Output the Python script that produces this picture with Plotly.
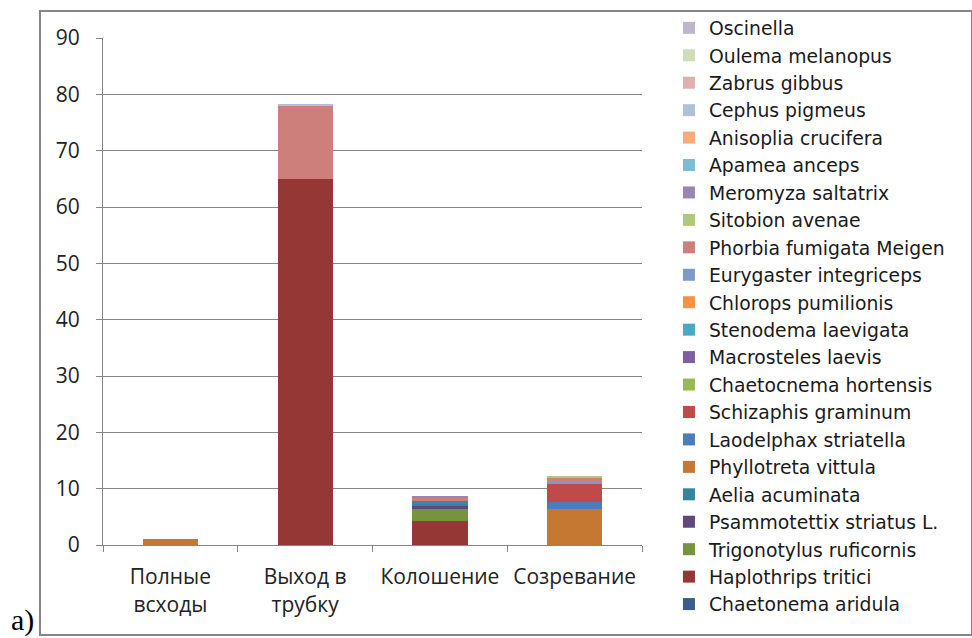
import plotly.graph_objects as go

stages = ["Полные<br>всходы", "Выход в<br>трубку", "Колошение", "Созревание"]

species = [
    "Chaetonema aridula", "Haplothrips tritici", "Trigonotylus ruficornis",
    "Psammotettix striatus L.", "Aelia acuminata", "Phyllotreta vittula",
    "Laodelphax striatella", "Schizaphis graminum", "Chaetocnema hortensis",
    "Macrosteles laevis", "Stenodema laevigata", "Chlorops pumilionis",
    "Eurygaster integriceps", "Phorbia fumigata Meigen", "Sitobion avenae",
    "Meromyza saltatrix", "Apamea anceps", "Anisoplia crucifera",
    "Cephus pigmeus", "Zabrus gibbus", "Oulema melanopus", "Oscinella",
]

chaetonema_aridula = [0, 0, 0, 0]
haplothrips_tritici = [0, 65, 4.3, 0]
trigonotylus_ruficornis = [0, 0, 2.1, 0]
psammotettix_striatus = [0, 0, 0.6, 0]
aelia_acuminata = [0, 0, 0.3, 0]
phyllotreta_vittula = [1.0, 0, 0, 6.4]
laodelphax_striatella = [0, 0, 0.5, 1.3]
schizaphis_graminum = [0, 0, 0, 3.3]
chaetocnema_hortensis = [0, 0, 0, 0]
macrosteles_laevis = [0, 0, 0, 0]
stenodema_laevigata = [0, 0, 0, 0]
chlorops_pumilionis = [0, 0, 0, 0]
eurygaster_integriceps = [0, 0, 0, 0.2]
phorbia_fumigata = [0, 13, 0.5, 0.7]
sitobion_avenae = [0, 0, 0, 0.2]
meromyza_saltatrix = [0, 0, 0.4, 0]
apamea_anceps = [0, 0, 0, 0]
anisoplia_crucifera = [0, 0, 0, 0]
cephus_pigmeus = [0, 0.2, 0, 0]
zabrus_gibbus = [0, 0, 0, 0]
oulema_melanopus = [0, 0, 0, 0]
oscinella = [0, 0, 0, 0]

values = [
    chaetonema_aridula, haplothrips_tritici, trigonotylus_ruficornis,
    psammotettix_striatus, aelia_acuminata, phyllotreta_vittula,
    laodelphax_striatella, schizaphis_graminum, chaetocnema_hortensis,
    macrosteles_laevis, stenodema_laevigata, chlorops_pumilionis,
    eurygaster_integriceps, phorbia_fumigata, sitobion_avenae,
    meromyza_saltatrix, apamea_anceps, anisoplia_crucifera,
    cephus_pigmeus, zabrus_gibbus, oulema_melanopus, oscinella,
]

colors = [
    "#385D8A", "#953735", "#77933C", "#5F497A", "#31859C", "#C47832",
    "#4A7EBB", "#BE4B48", "#98B954", "#7D60A0", "#46AAC5", "#F69240",
    "#7E9BC8", "#CD7F7C", "#AFC97A", "#9A86B5", "#7CBDD3", "#F9AA76",
    "#B0C0DC", "#DEB0AF", "#CEDDB6", "#BEB5CE",
]

fig = go.Figure()
for name, vals, col in zip(species, values, colors):
    fig.add_trace(go.Bar(
        x=stages, y=vals, name=name, legendgroup=name,
        marker=dict(color=col, line=dict(width=0)),
    ))

font_family = "Open Sans"
fig.update_layout(
    width=972, height=638,
    barmode="stack", bargap=0.59,
    plot_bgcolor="white", paper_bgcolor="white",
    margin=dict(l=103, r=330, t=38, b=93, autoexpand=False),
    font=dict(family=font_family, size=21, color="#222222"),
    showlegend=True,
    legend=dict(
        traceorder="reversed", x=1.05, xanchor="left", y=1.057, yanchor="top",
        font=dict(family="DejaVu Sans", size=18.8, color="#1a1a1a"),
        tracegroupgap=0, itemwidth=30, bgcolor="rgba(0,0,0,0)",
        maxheight=1.0,
    ),
    xaxis=dict(
        showline=True, linecolor="#868686", linewidth=1,
        ticks="outside", tickson="boundaries", ticklen=6, tickcolor="#868686",
        tickfont=dict(size=21), ticklabelstandoff=13,
    ),
    yaxis=dict(
        range=[0, 90], dtick=10, showgrid=True, gridcolor="#868686", gridwidth=1,
        showline=True, linecolor="#868686", linewidth=1,
        ticks="outside", ticklen=6, tickcolor="#868686",
        tickfont=dict(size=21), zeroline=False, ticklabelstandoff=12,
    ),
    shapes=[dict(
        type="rect", xref="paper", yref="paper",
        x0=-0.1169, x1=1.6122, y0=-0.1775, y1=1.0532,
        line=dict(color="#868686", width=2), fillcolor="rgba(0,0,0,0)",
        layer="below",
    )],
    annotations=[dict(
        text="a)", xref="paper", yref="paper", x=-0.1725, y=-0.184,
        xanchor="left", yanchor="bottom", showarrow=False, borderpad=0,
        font=dict(family="Liberation Serif", size=30, color="black"),
    )],
)

fig.write_html("out.html", config={"displayModeBar": False},
               post_script="document.body.style.margin='0';")
